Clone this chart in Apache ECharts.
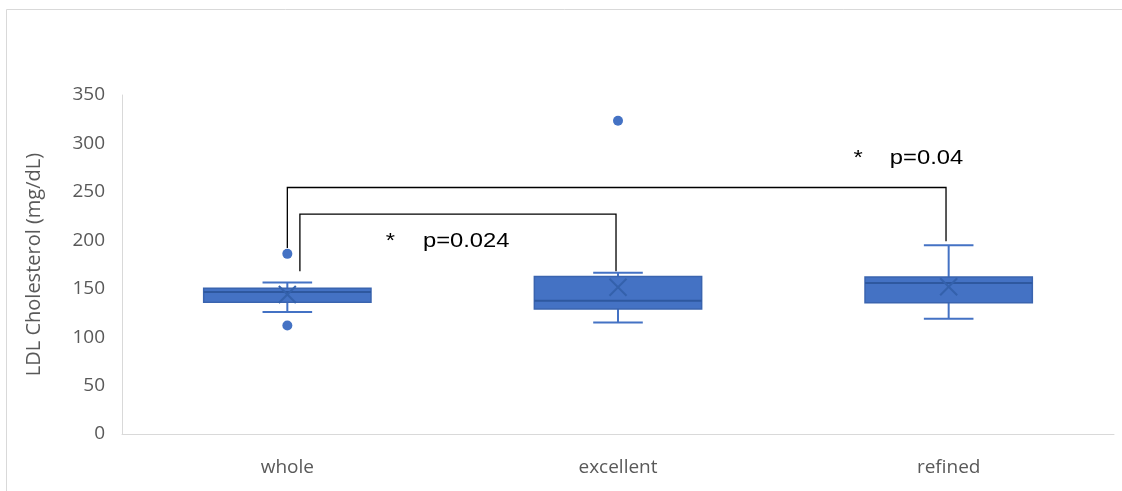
<!DOCTYPE html>
<html>
<head>
<meta charset="utf-8">
<style>
  html, body { margin: 0; padding: 0; background: #fff; overflow: hidden; }
  #chart { width: 1122px; height: 491px; }
</style>
<script src="https://cdn.jsdelivr.net/npm/echarts@6/dist/echarts.min.js"></script>
</head>
<body>
<div id="chart"></div>
<script>
// Groups on the x axis
const categories = ['whole', 'excellent', 'refined'];
// Box statistics per group: [lower whisker, Q1, median, Q3, upper whisker]
const whiskerLow = [126, 115, 119];
const quartile1 = [136, 129, 135.5];
const medians = [146.5, 137.5, 156];
const quartile3 = [150.5, 162.5, 162];
const whiskerHigh = [156.5, 166.5, 195];
// Group means (drawn as an X)
const means = [144, 151.5, 152];
// Outlying points: group index and value
const outlierGroup = [0, 0, 1];
const outlierValue = [186, 112, 323.5];
// Y axis ticks
const yTicks = [0, 50, 100, 150, 200, 250, 300, 350];
// Significance brackets between groups
const bracketFrom = [0, 0];
const bracketTo = [1, 2];
const bracketTop = [227, 254.5];
const bracketLeftEnd = [168, 192];
const bracketRightEnd = [168, 199];
const bracketStar = ['*', '*'];
const bracketLabel = ['p=0.024', 'p=0.04'];

const BLUE = '#4472C4';

const boxData = categories.map((c, i) => [i, whiskerLow[i], quartile1[i], medians[i], quartile3[i], whiskerHigh[i], means[i]]);
const outlierData = outlierGroup.map((g, i) => [g, outlierValue[i]]);
const bracketData = bracketFrom.map((f, i) => [f, bracketTo[i], bracketTop[i], bracketLeftEnd[i], bracketRightEnd[i], i]);

const chart = echarts.init(document.getElementById('chart'), null, { renderer: 'canvas' });

function renderBox(params, api) {
  const idx = api.value(0);
  const band = api.size([1, 0])[0];
  const cx = api.coord([idx, 0])[0];
  const yLow = api.coord([idx, api.value(1)])[1];
  const yQ1 = api.coord([idx, api.value(2)])[1];
  const yMed = api.coord([idx, api.value(3)])[1];
  const yQ3 = api.coord([idx, api.value(4)])[1];
  const yHigh = api.coord([idx, api.value(5)])[1];
  const yMean = api.coord([idx, api.value(6)])[1];
  const bw = band * 0.506;
  const cw = band * 0.15;
  const m = 8.5;
  const wStyle = { stroke: BLUE, lineWidth: 2, fill: null };
  return {
    type: 'group',
    children: [
      { type: 'line', shape: { x1: cx, y1: yQ3, x2: cx, y2: yHigh }, style: wStyle },
      { type: 'line', shape: { x1: cx, y1: yQ1, x2: cx, y2: yLow }, style: wStyle },
      { type: 'line', shape: { x1: cx - cw / 2, y1: yHigh, x2: cx + cw / 2, y2: yHigh }, style: wStyle },
      { type: 'line', shape: { x1: cx - cw / 2, y1: yLow, x2: cx + cw / 2, y2: yLow }, style: wStyle },
      { type: 'rect', shape: { x: cx - bw / 2, y: yQ3, width: bw, height: yQ1 - yQ3 },
        style: { fill: BLUE, stroke: '#3A64AF', lineWidth: 1.5 } },
      { type: 'line', shape: { x1: cx - bw / 2, y1: yMed, x2: cx + bw / 2, y2: yMed },
        style: { stroke: '#2E589F', lineWidth: 2 } },
      { type: 'line', shape: { x1: cx - m, y1: yMean - m, x2: cx + m, y2: yMean + m },
        style: { stroke: '#3461AC', lineWidth: 2 } },
      { type: 'line', shape: { x1: cx - m, y1: yMean + m, x2: cx + m, y2: yMean - m },
        style: { stroke: '#3461AC', lineWidth: 2 } }
    ]
  };
}

function renderBracket(params, api) {
  const from = api.value(0), to = api.value(1);
  const top = api.coord([0, api.value(2)])[1];
  const yl = api.coord([0, api.value(3)])[1];
  const yr = api.coord([0, api.value(4)])[1];
  const k = api.value(5);
  const band = api.size([1, 0])[0];
  // the inner bracket starts slightly right of the group centre
  const xl = api.coord([from, 0])[0] + (k === 0 ? band * 0.038 : 0);
  const xr = api.coord([to, 0])[0] - (k === 0 ? band * 0.006 : band * 0.008);
  const lineStyle = { stroke: '#000', lineWidth: 1.3, fill: null };
  const textFont = { fontFamily: 'Liberation Sans, Arial, sans-serif', fontSize: 20.5, fill: '#000' };
  let starX, labelX, labelY;
  if (k === 0) {
    starX = xl + band * 0.26;
    labelX = xl + band * 0.372;
    labelY = api.coord([0, 198.5])[1];
  } else {
    starX = xr - band * 0.28;
    labelX = xr - band * 0.17;
    labelY = api.coord([0, 285])[1];
  }
  return {
    type: 'group',
    children: [
      { type: 'polyline', shape: { points: [[xl, yl], [xl, top], [xr, top], [xr, yr]] }, style: lineStyle },
      { type: 'text', x: starX, y: labelY, scaleX: 1.16,
        style: Object.assign({ text: bracketStar[k], align: 'left', verticalAlign: 'middle' }, textFont) },
      { type: 'text', x: labelX, y: labelY, scaleX: 1.16,
        style: Object.assign({ text: bracketLabel[k], align: 'left', verticalAlign: 'middle' }, textFont) }
    ]
  };
}

const labelFont = 'Open Sans';

chart.setOption({
  animation: false,
  backgroundColor: '#fff',
  grid: { left: 122, right: 8, top: 95, bottom: 57, containLabel: false },
  // chart frame: only the top and left edges fall inside the page
  graphic: [{
    type: 'polyline', silent: true,
    shape: { points: [[6.5, 800], [6.5, 9.5], [1500, 9.5]] },
    style: { fill: null, stroke: '#D9D9D9', lineWidth: 1 }
  }],
  xAxis: {
    type: 'category',
    data: categories,
    boundaryGap: true,
    axisLine: { lineStyle: { color: '#D9D9D9', width: 1 } },
    axisTick: { show: false },
    axisLabel: { color: '#595959', fontFamily: labelFont, fontSize: 19, margin: 24 },
    splitLine: { show: false }
  },
  yAxis: {
    type: 'value',
    min: yTicks[0], max: yTicks[yTicks.length - 1], interval: yTicks[1] - yTicks[0],
    name: 'LDL Cholesterol (mg/dL)',
    nameLocation: 'middle',
    nameGap: 78,
    nameTextStyle: { color: '#595959', fontFamily: labelFont, fontSize: 20 },
    axisLine: { show: true, lineStyle: { color: '#D9D9D9', width: 1 } },
    axisTick: { show: false },
    axisLabel: { color: '#595959', fontFamily: labelFont, fontSize: 19, margin: 17 },
    splitLine: { show: false }
  },
  series: [
    {
      type: 'custom',
      renderItem: renderBox,
      data: boxData,
      encode: { x: 0, y: [1, 2, 3, 4, 5] },
      z: 2
    },
    {
      type: 'scatter',
      data: outlierData,
      symbol: 'circle',
      symbolSize: 10,
      itemStyle: { color: BLUE, opacity: 1 },
      z: 3
    },
    {
      type: 'custom',
      renderItem: renderBracket,
      data: bracketData,
      encode: { x: [0, 1], y: [2, 3, 4] },
      z: 4
    }
  ]
});
</script>
</body>
</html>
